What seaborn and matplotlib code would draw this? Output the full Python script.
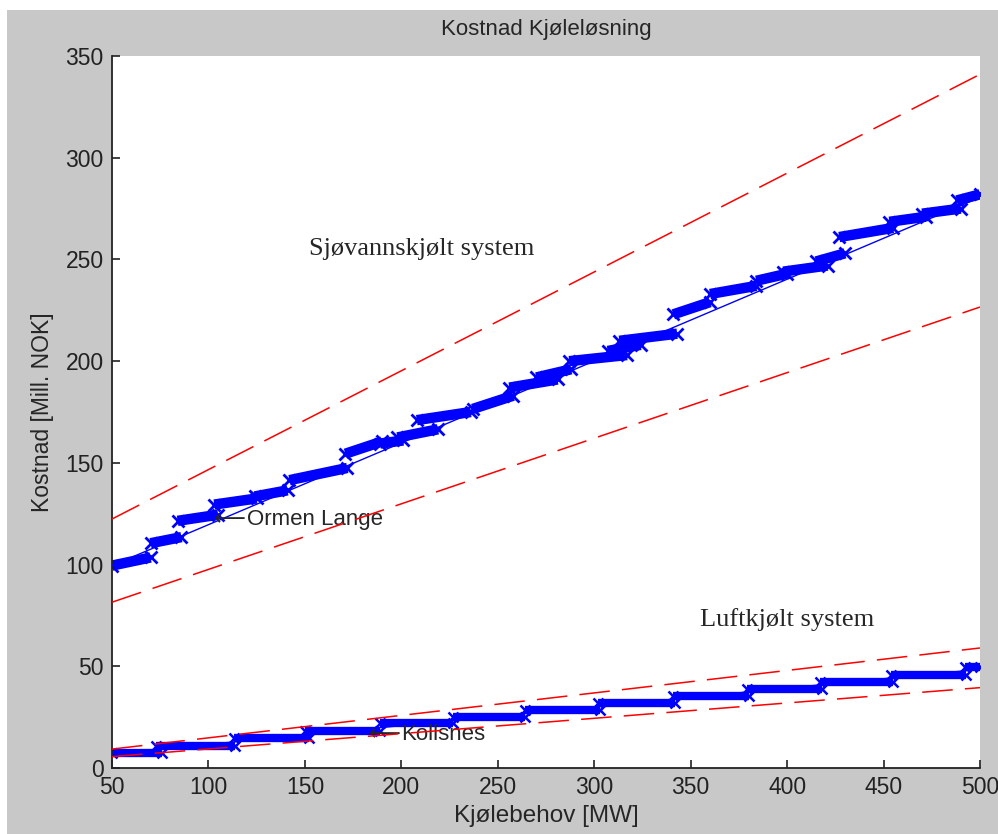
import numpy as np
import pandas as pd
import matplotlib
matplotlib.use("Agg")
import matplotlib.pyplot as plt
import seaborn as sns

# Sjøvannskjølt: trinn (x start, x slutt, y start, y slutt)
sea_x0 = [50, 70, 84, 103, 124, 142, 171, 189, 198, 208, 237, 256, 270,
          287, 307, 313, 341, 360, 384, 398, 415, 427, 453, 470, 488]
sea_x1 = [70, 86, 105, 125, 141, 172, 190, 201, 219, 236, 258, 281, 288,
          317, 324, 343, 360, 384, 400, 421, 430, 455, 472, 490, 500]
sea_y0 = [99.5, 110.5, 121.5, 129.5, 133.5, 141.5, 154.5, 159.5, 162.5, 171,
          176.5, 187, 192, 200, 205, 210, 223, 233, 239.5, 244, 249, 261,
          268.5, 272.5, 279]
sea_y1 = [103.5, 113.5, 124.5, 132.5, 136.5, 147.5, 160.5, 161, 166.5, 175,
          183, 191, 196, 203, 208, 213.5, 229, 237, 243, 247, 253, 265.5,
          271, 275, 282]

# Luftkjølt: trinn (x start, x slutt, nivå)
air_x0 = [50, 73, 113, 150, 189, 227, 264, 302, 341, 379, 417, 454, 492]
air_x1 = [76, 114, 152, 189, 227, 264, 303, 342, 380, 418, 455, 493, 500]
air_y = [7.5, 11, 14.6, 18.3, 22, 25.2, 28.5, 32.1, 35.4, 38.8, 42.1, 45.7, 49.5]

# tilpassede linjer og grenser (endepunkter ved x = 50 og 500)
x_ends = [50, 500]
sea_fit = [99.5, 280.5]
sea_hi = [122.4, 341]
sea_lo = [81.5, 226.6]
air_fit = [7, 48.5]
air_hi = [9.3, 59]
air_lo = [5.6, 39.5]

sns.set_style("ticks")
plt.rcParams['font.family'] = ['Liberation Sans', 'DejaVu Sans']

gray = '#c8c8c8'
fig = plt.figure(figsize=(9.98, 8.34), dpi=100, facecolor='white')
fig.patches.append(plt.Rectangle((7 / 998, 0), 1, 1 - 10 / 834, transform=fig.transFigure,
                                 facecolor=gray, edgecolor='none', zorder=-10))
ax = fig.add_axes([112 / 998, 66 / 834, 868 / 998, 712 / 834])
ax.set_facecolor('white')


def steps(x0, x1, y0, y1):
    rows = []
    for i in range(len(x0)):
        rows.append({'seg': i, 'x': x0[i], 'y': y0[i]})
        rows.append({'seg': i, 'x': x1[i], 'y': y1[i]})
    return pd.DataFrame(rows)


sea = steps(sea_x0, sea_x1, sea_y0, sea_y1)
air = steps(air_x0, air_x1, air_y, air_y)

sns.lineplot(data=sea, x='x', y='y', units='seg', estimator=None, color='blue',
             lw=7.5, marker='x', markersize=8, mew=2, mec='blue',
             solid_capstyle='butt', ax=ax, zorder=2)
sns.lineplot(data=air, x='x', y='y', units='seg', estimator=None, color='blue',
             lw=6, marker='x', markersize=6.5, mew=1.8, mec='blue',
             solid_capstyle='butt', ax=ax, zorder=2)

sns.lineplot(x=x_ends, y=sea_fit, color='blue', lw=1, ax=ax, zorder=3)
sns.lineplot(x=x_ends, y=air_fit, color='blue', lw=1, ax=ax, zorder=3)

for ys in (sea_hi, sea_lo, air_hi, air_lo):
    sns.lineplot(x=x_ends, y=ys, color='red', lw=1.1, ax=ax, zorder=4).lines[-1].set_dashes((20, 8))

ax.set_xlim(50, 500)
ax.set_ylim(0, 350)
ax.set_xticks(np.arange(50, 501, 50))
ax.set_yticks(np.arange(0, 351, 50))
ax.tick_params(direction='in', length=6, width=1.2, labelsize=16.5, colors='#222222', pad=6)
for s in ('top', 'right'):
    ax.spines[s].set_visible(False)
for s in ('left', 'bottom'):
    ax.spines[s].set_color('#222222')
    ax.spines[s].set_linewidth(1.3)

ax.set_xlabel('Kjølebehov [MW]', fontsize=17.5, labelpad=4)
ax.set_ylabel('Kostnad [Mill. NOK]', fontsize=16.5, labelpad=8)
fig.text(546 / 998, 1 - 30 / 834, 'Kostnad Kjøleløsning', ha='center', va='center', fontsize=16)

ax.text(152, 255, 'Sjøvannskjølt system', family='Liberation Serif', fontsize=19, va='center')
ax.text(355, 72.8, 'Luftkjølt system', family='Liberation Serif', fontsize=19, va='center')
ax.text(103, 122.4, '⟵', family='DejaVu Sans', fontsize=16, va='center')
ax.text(120, 122.4, 'Ormen Lange', fontsize=16, va='center')
ax.text(183, 16.5, '⟵', family='DejaVu Sans', fontsize=16, va='center')
ax.text(200, 16.5, 'Kollsnes', fontsize=16, va='center')

fig.savefig('out.png', dpi=100, facecolor=fig.get_facecolor())
